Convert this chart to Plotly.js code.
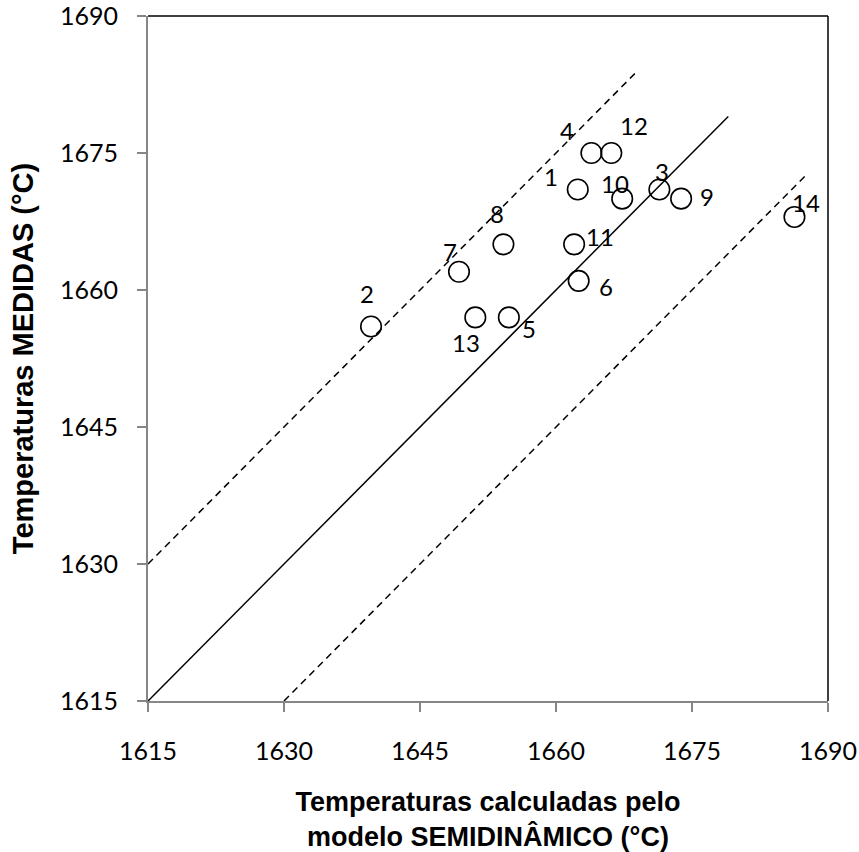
<!DOCTYPE html>
<html>
<head>
<meta charset="utf-8">
<script src="https://cdn.plot.ly/plotly-3.0.1.min.js"></script>
<style>html,body{margin:0;padding:0;background:#fff;}#chart{width:859px;height:852px;}</style>
</head>
<body>
<div id="chart"></div>
<script>
// Data
const pointLabels = ["1","2","3","4","5","6","7","8","9","10","11","12","13","14"];
const calculadas = [1662.4, 1639.6, 1671.4, 1663.9, 1654.8, 1662.5, 1649.3, 1654.2, 1673.8, 1667.3, 1662.0, 1666.1, 1651.1, 1686.3];
const medidas    = [1671, 1656, 1671, 1675, 1657, 1661, 1662, 1665, 1670, 1670, 1665, 1675, 1657, 1668];

const idealX = [1615, 1679];
const idealY = [1615, 1679];
const upperX = [1615, 1669];
const upperY = [1630, 1684];
const lowerX = [1630, 1687.7];
const lowerY = [1615, 1672.7];

const tickVals = [1615, 1630, 1645, 1660, 1675, 1690];

// label offsets in pixels (style only)
const labelDX = [-27, -4, 3, -24, 20, 27, -9, -6, 26, -7, 26, 23, -9, 12];
const labelDY = [-13, -33, -18, -23, 11, 6, -20, -31, -2, -15, -8, -28, 25, -14];

const traces = [
  {x: idealX, y: idealY, mode: 'lines', line: {color: '#000', width: 1.5}, hoverinfo: 'skip'},
  {x: upperX, y: upperY, mode: 'lines', line: {color: '#000', width: 1.5, dash: '7px,5px'}, hoverinfo: 'skip'},
  {x: lowerX, y: lowerY, mode: 'lines', line: {color: '#000', width: 1.5, dash: '7px,5px'}, hoverinfo: 'skip'},
  {x: calculadas, y: medidas, mode: 'markers', text: pointLabels,
   marker: {symbol: 'circle-open', size: 20.5, color: '#000', line: {color: '#000', width: 1.6}}}
];

const annotations = pointLabels.map((t, i) => ({
  x: calculadas[i], y: medidas[i], text: t, showarrow: false,
  xshift: labelDX[i], yshift: -labelDY[i],
  font: {family: 'Lato, Carlito, sans-serif', size: 24, color: '#000'}
}));

const axisCommon = {
  range: [1615, 1690], tickvals: tickVals, ticktext: tickVals.map(String),
  showgrid: false, zeroline: false, showline: true, linecolor: '#868686', linewidth: 2,
  ticks: 'outside', ticklen: 9, tickwidth: 2, tickcolor: '#868686',
  ticklabeloverflow: 'allow',
  tickfont: {family: 'Lato, Carlito, sans-serif', size: 25, color: '#000'},
  automargin: false, fixedrange: true
};

const layout = {
  width: 859, height: 852,
  margin: {l: 148, r: 31, t: 16, b: 151},
  paper_bgcolor: '#fff', plot_bgcolor: '#fff',
  showlegend: false,
  xaxis: Object.assign({}, axisCommon, {
    ticklabelstandoff: 18,
    title: {text: 'Temperaturas calculadas pelo<br>modelo SEMIDINÂMICO (°C)', standoff: 28,
            font: {family: 'Arial, Liberation Sans, sans-serif', size: 27, weight: 'bold', color: '#000'}}
  }),
  yaxis: Object.assign({}, axisCommon, {
    ticklabelstandoff: 14,
    title: {text: 'Temperaturas MEDIDAS (°C)', standoff: 18,
            font: {family: 'Arial, Liberation Sans, sans-serif', size: 29, weight: 'bold', color: '#000'}}
  }),
  shapes: [
    {type: 'line', xref: 'paper', yref: 'paper', x0: 0, x1: 1, y0: 1, y1: 1, line: {color: '#000', width: 1.5}},
    {type: 'line', xref: 'paper', yref: 'paper', x0: 1, x1: 1, y0: 0, y1: 1, line: {color: '#000', width: 1.5}}
  ],
  annotations: annotations
};

Plotly.newPlot('chart', traces, layout, {displayModeBar: false, staticPlot: true});
</script>
</body>
</html>
